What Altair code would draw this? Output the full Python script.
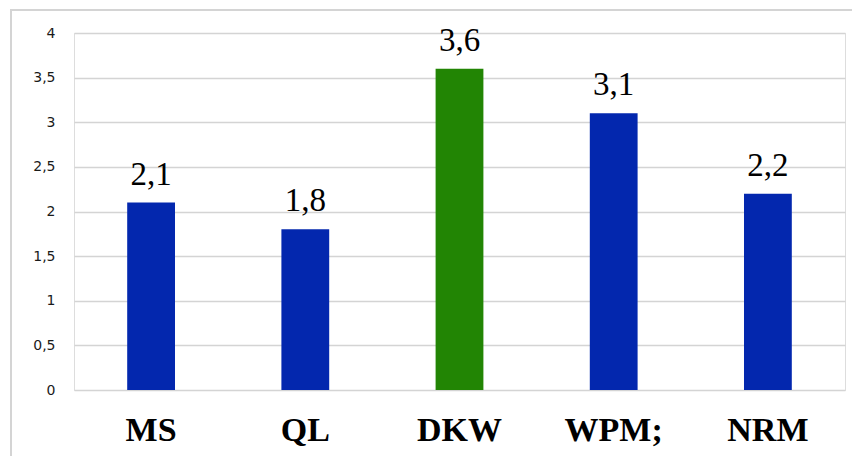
import altair as alt
import pandas as pd

categories = ["MS", "QL", "DKW", "WPM;", "NRM"]
values = [2.1, 1.8, 3.6, 3.1, 2.2]
bar_colors = ["#0327AE", "#0327AE", "#228504", "#0327AE", "#0327AE"]
y_ticks = [0, 0.5, 1, 1.5, 2, 2.5, 3, 3.5, 4]

df = pd.DataFrame({"cat": categories, "val": values})

base = alt.Chart(df)

x_enc = alt.X("cat:N", sort=categories, title=None,
              scale=alt.Scale(paddingInner=0.69, paddingOuter=0.345),
              axis=alt.Axis(labelAngle=0, labelFont="Liberation Serif", labelFontSize=34,
                            labelFontWeight="bold", labelColor="#000000", labelPadding=23,
                            ticks=False, domain=False, grid=False))
y_enc = alt.Y("val:Q", title=None,
              scale=alt.Scale(domain=[0, 4], nice=False),
              axis=alt.Axis(values=y_ticks, format="~g",
                            labelExpr="replace(datum.label, '.', ',')",
                            labelFont="DejaVu Sans", labelFontSize=14,
                            labelColor="#1a1a1a", labelPadding=19,
                            ticks=False, domain=False,
                            grid=True, gridColor="#d4d4d4", gridWidth=1.6))

bars = base.mark_bar().encode(
    x=x_enc,
    y=y_enc,
    color=alt.Color("cat:N", scale=alt.Scale(domain=categories, range=bar_colors), legend=None),
)

labels = base.transform_calculate(
    lab="replace(format(datum.val, '.1f'), '.', ',')"
).mark_text(font="Liberation Serif", fontSize=33, baseline="alphabetic", dy=-18, color="#000000").encode(
    x=alt.X("cat:N", sort=categories),
    y=alt.Y("val:Q"),
    text="lab:N",
)

border_top = base.mark_rule(color="#d4d4d4", strokeWidth=2).encode(
    x=alt.value(-64), x2=alt.value(800), y=alt.value(-23)
)
border_left = base.mark_rule(color="#d4d4d4", strokeWidth=2).encode(
    x=alt.value(-63), y=alt.value(-23), y2=alt.value(460)
)

chart = alt.layer(bars, labels, border_top, border_left).properties(
    width=771, height=357,
    autosize=alt.AutoSizeParams(type="none"),
    padding={"left": 66, "top": 25, "right": 7, "bottom": 66},
).configure_view(stroke=None).configure(background="#ffffff")

chart.save("out.html", embed_options={"renderer": "svg", "actions": False})
